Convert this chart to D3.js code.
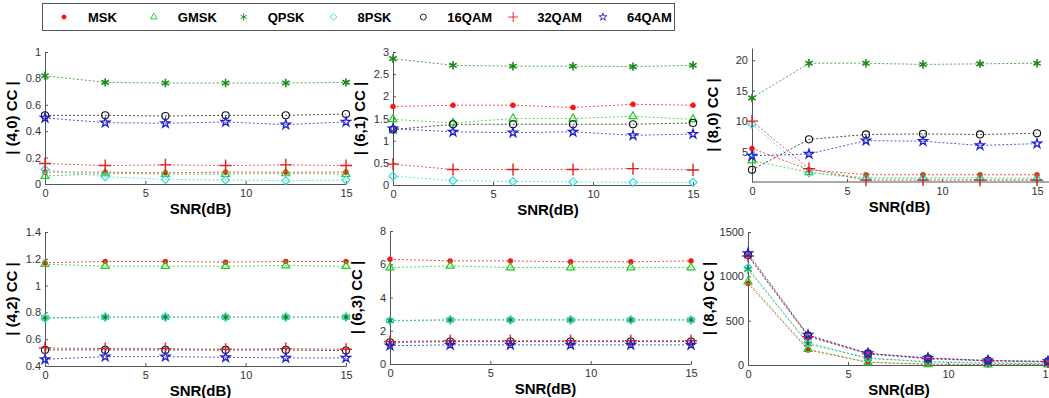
<!DOCTYPE html>
<html>
<head>
<meta charset="utf-8">
<script src="https://cdn.jsdelivr.net/npm/d3@7"></script>
<style>
body { margin: 0; background: #fff; }
text { font-family: "Liberation Sans", Arial, sans-serif; }
</style>
</head>
<body>
<svg id="chart" width="1049" height="398"></svg>
<script>
var snr = [0, 3, 6, 9, 12, 15];
var mods = ["MSK", "GMSK", "QPSK", "8PSK", "16QAM", "32QAM", "64QAM"];
var xTicks = [0, 5, 10, 15];

// one row per modulation, same order as mods
var c40 = [
	[0.09, 0.09, 0.085, 0.09, 0.09, 0.09],
	[0.06, 0.08, 0.075, 0.075, 0.08, 0.075],
	[0.82, 0.77, 0.765, 0.765, 0.765, 0.77],
	[0.11, 0.055, 0.035, 0.03, 0.025, 0.03],
	[0.52, 0.52, 0.515, 0.52, 0.52, 0.53],
	[0.155, 0.14, 0.145, 0.14, 0.145, 0.14],
	[0.50, 0.465, 0.46, 0.47, 0.45, 0.47]];
var c61 = [
	[1.77, 1.8, 1.8, 1.75, 1.82, 1.8],
	[1.48, 1.4, 1.5, 1.5, 1.55, 1.48],
	[2.85, 2.7, 2.68, 2.68, 2.67, 2.7],
	[0.2, 0.1, 0.08, 0.07, 0.06, 0.06],
	[1.25, 1.37, 1.37, 1.37, 1.37, 1.4],
	[0.47, 0.35, 0.35, 0.35, 0.37, 0.34],
	[1.27, 1.2, 1.18, 1.2, 1.12, 1.15]];
var c80 = [
	[5.5, 2.0, 1.2, 1.2, 1.2, 1.2],
	[3.5, 1.6, 0.7, 0.7, 0.7, 0.6],
	[13.8, 19.5, 19.5, 19.3, 19.4, 19.5],
	[9.5, 1.5, 0.5, 0.5, 0.4, 0.4],
	[2.0, 7.0, 7.8, 7.9, 7.8, 8.0],
	[10.0, 2.2, 0.3, 0.3, 0.3, 0.3],
	[4.3, 4.6, 6.8, 6.7, 6.0, 6.3]];
var c42 = [
	[1.17, 1.18, 1.18, 1.175, 1.18, 1.18],
	[1.16, 1.145, 1.145, 1.145, 1.15, 1.145],
	[0.76, 0.765, 0.765, 0.765, 0.765, 0.765],
	[0.755, 0.765, 0.765, 0.765, 0.765, 0.765],
	[0.52, 0.52, 0.52, 0.52, 0.52, 0.515],
	[0.535, 0.53, 0.53, 0.525, 0.53, 0.525],
	[0.45, 0.47, 0.47, 0.465, 0.46, 0.46]];
var c63 = [
	[6.3, 6.2, 6.2, 6.15, 6.15, 6.2],
	[5.8, 5.9, 5.8, 5.8, 5.8, 5.8],
	[2.6, 2.65, 2.65, 2.65, 2.65, 2.65],
	[2.62, 2.66, 2.66, 2.66, 2.66, 2.66],
	[1.3, 1.35, 1.35, 1.35, 1.35, 1.35],
	[1.35, 1.4, 1.4, 1.4, 1.4, 1.4],
	[1.1, 1.15, 1.15, 1.15, 1.15, 1.15]];
var c84 = [
	[920, 170, 30, 10, 5, 5],
	[940, 180, 30, 8, 5, 5],
	[1080, 240, 75, 35, 20, 15],
	[1100, 250, 80, 40, 25, 20],
	[1240, 330, 130, 75, 50, 40],
	[1230, 320, 125, 70, 45, 35],
	[1260, 340, 130, 80, 50, 40]];

var colors = ["#ff1010", "#22cc22", "#1a8a1a", "#30dada", "#111111", "#e02020", "#2020cc"];

var panels = [
	{name: "| (4,0) CC |", data: c40, x0: 45, x1: 346, yTop: 52, yBot: 184, dom: [0, 1], ticks: [0, 0.2, 0.4, 0.6, 0.8, 1]},
	{name: "| (6,1) CC |", data: c61, x0: 393, x1: 693, yTop: 52, yBot: 185, dom: [0, 3], ticks: [0, 0.5, 1, 1.5, 2, 2.5, 3]},
	{name: "| (8,0) CC |", data: c80, x0: 752, x1: 1037, yTop: 48, yBot: 182, dom: [0, 22], ticks: [5, 10, 15, 20], xEnd: 1049},
	{name: "| (4,2) CC |", data: c42, x0: 45, x1: 346, yTop: 232, yBot: 366, dom: [0.4, 1.4], ticks: [0.4, 0.6, 0.8, 1, 1.2, 1.4]},
	{name: "| (6,3) CC |", data: c63, x0: 390, x1: 691, yTop: 231, yBot: 364, dom: [0, 8], ticks: [0, 2, 4, 6, 8]},
	{name: "| (8,4) CC |", data: c84, x0: 748, x1: 1048, yTop: 232, yBot: 365, dom: [0, 1500], ticks: [0, 500, 1000, 1500]}
];

var svg = d3.select("#chart");

function symType(i) {
	var t = [d3.symbolCircle, d3.symbolTriangle2 || d3.symbolTriangle, d3.symbolAsterisk || d3.symbolCross,
		d3.symbolDiamond2 || d3.symbolDiamond, d3.symbolCircle, d3.symbolPlus || d3.symbolCross, d3.symbolStar];
	return t[i];
}
var symSize = [20, 45, 50, 40, 40, 50, 26];
var symStroke = [0.5, 1.2, 1.6, 1.2, 1.1, 1.4, 1.3];

function marker(g, i, x, y, scale) {
	var filled = (i === 0);
	g.append("path")
		.attr("d", d3.symbol().type(symType(i)).size(symSize[i] * (scale || 1))())
		.attr("transform", "translate(" + x + "," + y + ")")
		.attr("fill", filled ? colors[i] : "none")
		.attr("stroke", colors[i])
		.attr("stroke-width", scale ? 0.9 : symStroke[i]);
}

panels.forEach(function (p) {
	var g = svg.append("g");
	var x = d3.scaleLinear().domain([0, 15]).range([p.x0, p.x1]);
	var y = d3.scaleLinear().domain(p.dom).range([p.yBot, p.yTop]);

	var xa = g.append("g").attr("transform", "translate(0," + p.yBot + ")")
		.call(d3.axisBottom(x).tickValues(xTicks).tickSizeInner(-3).tickSizeOuter(0).tickPadding(5));
	if (p.xEnd) xa.select(".domain").attr("d", "M" + p.x0 + ",0H" + p.xEnd);
	var ya = g.append("g").attr("transform", "translate(" + p.x0 + ",0)")
		.call(d3.axisLeft(y).tickValues(p.ticks).tickFormat(function (d) { return d; })
			.tickSizeInner(-3).tickSizeOuter(0).tickPadding(4));
	[xa, ya].forEach(function (a) {
		a.select(".domain").attr("stroke", "#555");
		a.selectAll(".tick line").attr("stroke", "#555");
		a.selectAll(".tick text").attr("fill", "#333").style("font-size", "11px")
			.style("font-family", "'Liberation Sans', Arial, sans-serif");
	});

	var line = d3.line().x(function (d, j) { return x(snr[j]); }).y(function (d) { return y(d); });
	p.data.forEach(function (vals, i) {
		g.append("path").datum(vals)
			.attr("d", line)
			.attr("fill", "none")
			.attr("stroke", colors[i])
			.attr("stroke-opacity", 0.75)
			.attr("stroke-width", 1)
			.attr("stroke-dasharray", "2,2");
	});
	p.data.forEach(function (vals, i) {
		vals.forEach(function (v, j) { marker(g, i, x(snr[j]), y(v)); });
	});

	g.append("text")
		.attr("x", (p.x0 + Math.min(p.x1, 1040)) / 2 + 5)
		.attr("y", p.yBot + 30)
		.attr("text-anchor", "middle")
		.style("font-size", "15px").style("font-weight", "bold")
		.text("SNR(dB)");
	var lx = p.x0 - 28, ly = (p.yTop + p.yBot) / 2;
	if (p.dom[1] >= 20) lx = p.x0 - 34;
	g.append("text")
		.attr("transform", "translate(" + lx + "," + ly + ") rotate(-90)")
		.attr("text-anchor", "middle")
		.style("font-size", "15px").style("font-weight", "bold")
		.text(p.name);
});

// legend
var leg = svg.append("g");
leg.append("rect").attr("x", 42.5).attr("y", 3.5).attr("width", 632).attr("height", 27)
	.attr("fill", "#fff").attr("stroke", "#555");
var legX = d3.scaleLinear().domain([0, 6]).range([88, 627]);
mods.forEach(function (m, i) {
	marker(leg, i, legX(i) - 24, 17, 0.7);
	leg.append("text").attr("x", legX(i)).attr("y", 22)
		.style("font-size", "13px").style("font-weight", "bold")
		.text(m);
});
</script>
</body>
</html>
